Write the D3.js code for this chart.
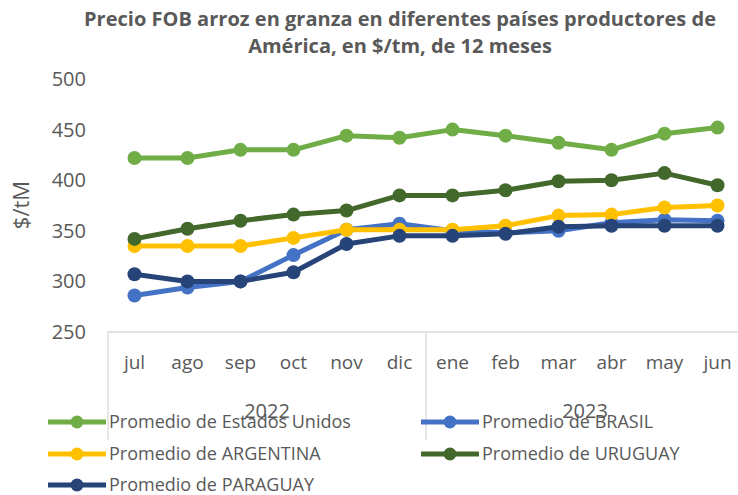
<!DOCTYPE html>
<html>
<head>
<meta charset="utf-8">
<script src="https://cdn.jsdelivr.net/npm/d3@7"></script>
<style>
  body { margin: 0; background: #fff; }
  text { font-family: "Open Sans", "Noto Sans", sans-serif; fill: #595959; }
</style>
</head>
<body>
<div id="chart"></div>
<script>
// chart data
let months = ["jul", "ago", "sep", "oct", "nov", "dic", "ene", "feb", "mar", "abr", "may", "jun"];
let years = [{ label: "2022", from: 0, to: 6 }, { label: "2023", from: 6, to: 12 }];
let yTicks = [250, 300, 350, 400, 450, 500];

let estadosUnidos = [422, 422, 430, 430, 444, 442, 450, 444, 437, 430, 446, 452];
let brasil = [286, 294, 300, 326, 351, 357, 350, 348, 350, 358, 361, 360];
let argentina = [335, 335, 335, 343, 351, 351, 351, 355, 365, 366, 373, 375];
let uruguay = [342, 352, 360, 366, 370, 385, 385, 390, 399, 400, 407, 395];
let paraguay = [307, 300, 300, 309, 337, 345, 345, 347, 354, 355, 355, 355];

let series = [
  { name: "Promedio de Estados Unidos", values: estadosUnidos, color: "#70AD47" },
  { name: "Promedio de BRASIL", values: brasil, color: "#4472C4" },
  { name: "Promedio de ARGENTINA", values: argentina, color: "#FFC000" },
  { name: "Promedio de URUGUAY", values: uruguay, color: "#43682B" },
  { name: "Promedio de PARAGUAY", values: paraguay, color: "#264478" }
];

let w = 738, h = 495;
let svg = d3.select("#chart").append("svg")
  .attr("width", w)
  .attr("height", h);

let x = d3.scaleBand().domain(months).range([108, 744]);
let y = d3.scaleLinear().domain([250, 500]).range([332, 79]);

// title
svg.append("text")
  .attr("x", 400).attr("y", 26)
  .attr("text-anchor", "middle")
  .attr("font-size", "20px").attr("font-weight", "bold")
  .attr("textLength", 632)
  .text("Precio FOB arroz en granza en diferentes países productores de");
svg.append("text")
  .attr("x", 400).attr("y", 53)
  .attr("text-anchor", "middle")
  .attr("font-size", "20px").attr("font-weight", "bold")
  .text("América, en $/tm, de 12 meses");

// y axis (labels only)
let yAxis = d3.axisLeft(y).tickValues(yTicks).tickSize(0).tickPadding(0);
let gy = svg.append("g")
  .attr("transform", "translate(86,0)")
  .call(yAxis);
gy.select(".domain").remove();
gy.selectAll("text")
  .attr("font-size", "20px")
  .attr("fill", "#595959")
  .style("font-family", "'Open Sans', sans-serif");

svg.append("text")
  .attr("transform", "translate(29,205) rotate(-90)")
  .attr("text-anchor", "middle")
  .attr("font-size", "22px")
  .text("$/tM");

// category box: axis line + dividers
let boxBottom = 440;
svg.append("line")
  .attr("x1", 108).attr("x2", 744)
  .attr("y1", 332).attr("y2", 332)
  .attr("stroke", "#d9d9d9").attr("stroke-width", 1.3);
[0, 6].forEach(function(i) {
  let xx = x(months[i]);
  svg.append("line")
    .attr("x1", xx).attr("x2", xx)
    .attr("y1", 332).attr("y2", boxBottom)
    .attr("stroke", "#d9d9d9").attr("stroke-width", 1.3);
});

let xAxis = d3.axisBottom(x).tickSize(0).tickPadding(0);
let gx = svg.append("g")
  .attr("transform", "translate(0,355)")
  .call(xAxis);
gx.select(".domain").remove();
gx.selectAll("text")
  .attr("font-size", "19px")
  .attr("fill", "#595959")
  .style("font-family", "'Open Sans', sans-serif");

svg.selectAll(".year")
  .data(years)
  .enter()
  .append("text")
  .attr("class", "year")
  .attr("x", function(d) {
    return (x(months[d.from]) + x(months[d.to - 1]) + x.bandwidth()) / 2;
  })
  .attr("y", 418)
  .attr("text-anchor", "middle")
  .attr("font-size", "20px")
  .text(function(d) { return d.label; });

// lines + markers
let line = d3.line()
  .x(function(d, i) { return x(months[i]) + x.bandwidth() / 2; })
  .y(function(d) { return y(d); });

series.forEach(function(s) {
  let g = svg.append("g");
  g.append("path")
    .datum(s.values)
    .attr("d", line)
    .attr("fill", "none")
    .attr("stroke", s.color)
    .attr("stroke-width", 5)
    .attr("stroke-linejoin", "round");
  g.selectAll("circle")
    .data(s.values)
    .enter()
    .append("circle")
    .attr("cx", function(d, i) { return x(months[i]) + x.bandwidth() / 2; })
    .attr("cy", function(d) { return y(d); })
    .attr("r", 7)
    .attr("fill", s.color);
});

// legend
let legendPos = [
  { x: 48, y: 422 }, { x: 421, y: 422 },
  { x: 48, y: 454 }, { x: 421, y: 454 },
  { x: 48, y: 485 }
];
series.forEach(function(s, i) {
  let p = legendPos[i];
  let g = svg.append("g").attr("transform", "translate(" + p.x + "," + p.y + ")");
  g.append("line")
    .attr("x1", 0).attr("x2", 58)
    .attr("y1", 0).attr("y2", 0)
    .attr("stroke", s.color).attr("stroke-width", 5);
  g.append("circle")
    .attr("cx", 29).attr("cy", 0).attr("r", 6.5)
    .attr("fill", s.color);
  g.append("text")
    .attr("x", 61).attr("y", 0)
    .attr("dy", "0.35em")
    .attr("font-size", "18px")
    .text(s.name);
});
</script>
</body>
</html>
